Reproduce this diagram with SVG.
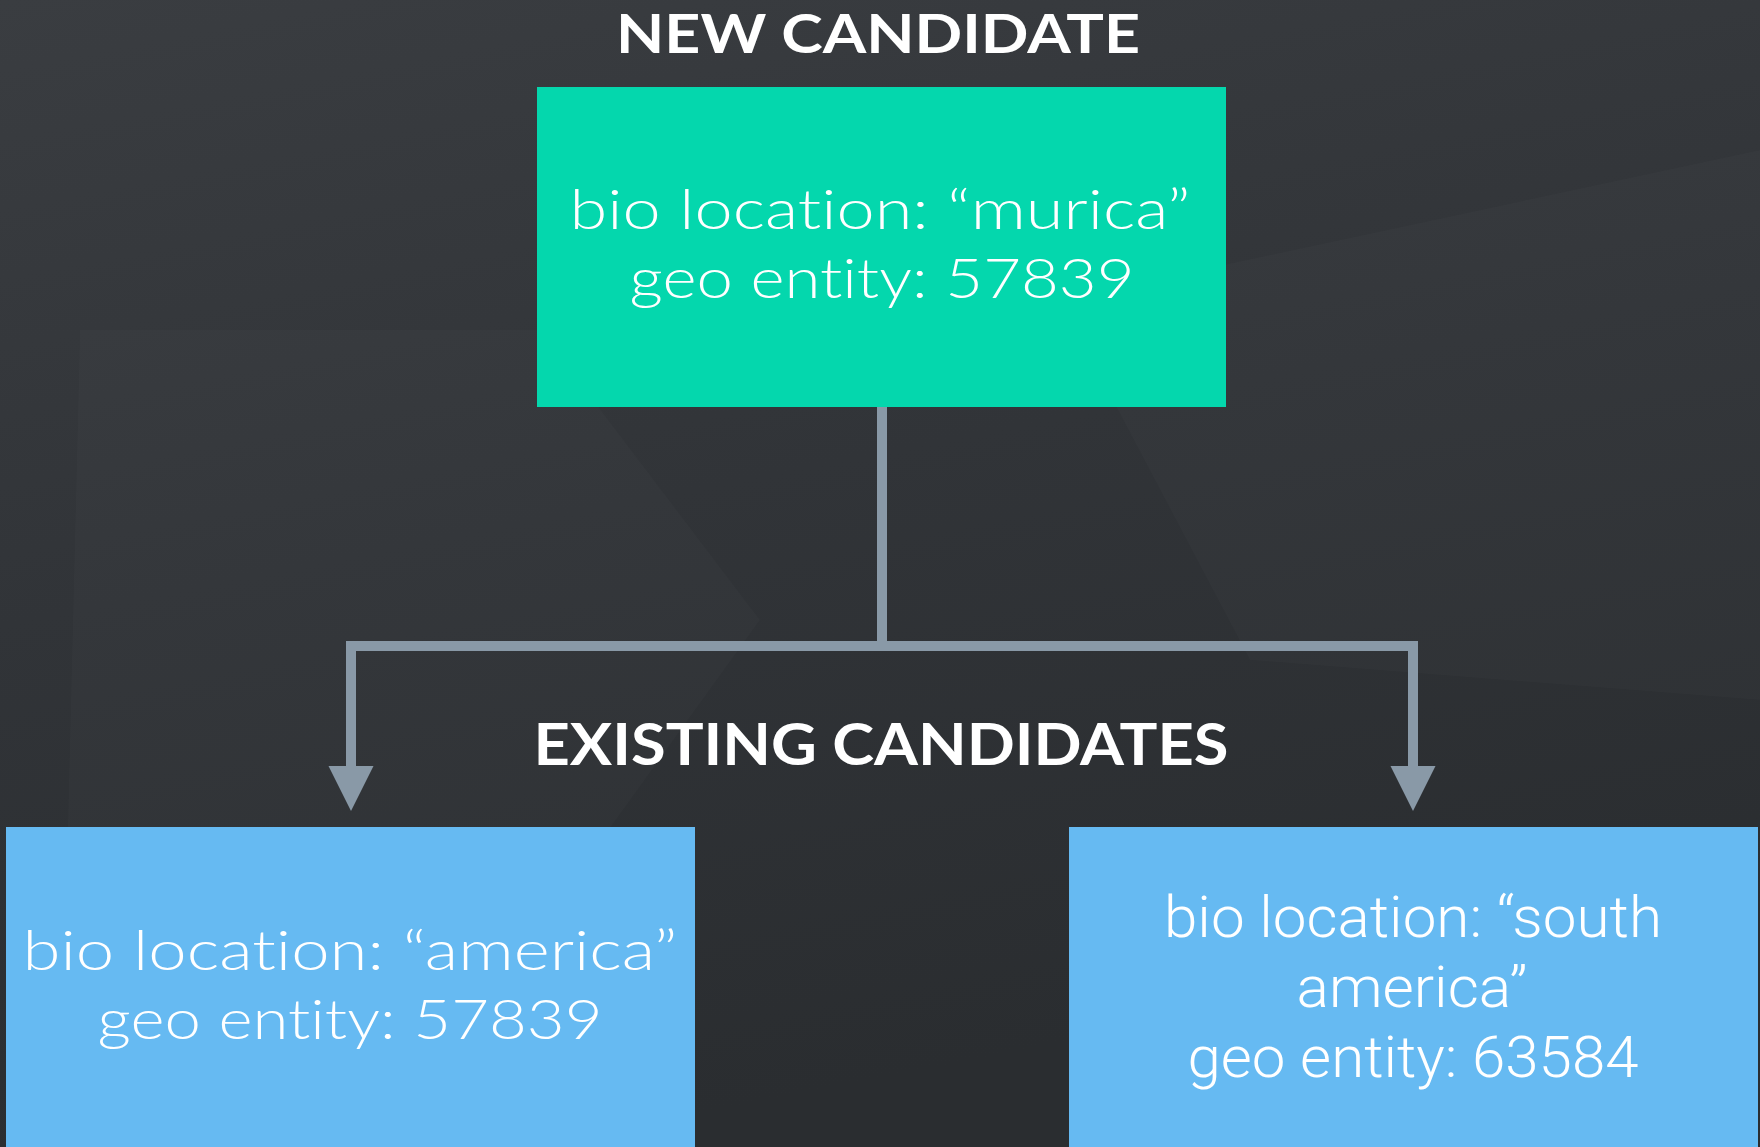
<svg xmlns="http://www.w3.org/2000/svg" width="1760" height="1147" viewBox="0 0 1760 1147">
  <defs>
    <linearGradient id="bg" x1="0" y1="0" x2="0.3" y2="1">
      <stop offset="0" stop-color="#3a3d41"/>
      <stop offset="0.5" stop-color="#313438"/>
      <stop offset="1" stop-color="#2a2d30"/>
    </linearGradient>
    <marker id="arrow" markerUnits="userSpaceOnUse" markerWidth="46" markerHeight="46" viewBox="0 -23 46 46" refX="0" refY="0" orient="auto">
      <path d="M0,-22.5 L45,0 L0,22.5 Z" fill="#8999a7"/>
    </marker>
    <style>
      text { font-variant-ligatures: none; font-feature-settings: "liga" 0, "clig" 0; }
      .heading { font-family: "Lato", "Open Sans", "Liberation Sans", sans-serif; font-weight: 700; font-size: 53px; fill: #ffffff; text-anchor: middle; }
      .heading2 { font-family: "Lato", "Open Sans", "Liberation Sans", sans-serif; font-weight: 700; font-size: 57px; fill: #ffffff; text-anchor: middle; }
      .body { font-family: "Lato", "Open Sans", "Liberation Sans", sans-serif; font-weight: 300; font-size: 55px; fill: #ffffff; text-anchor: middle; }
      .body2 { font-family: "Roboto", "Liberation Sans", sans-serif; font-weight: 300; font-size: 57px; fill: #ffffff; text-anchor: middle; }
      .teal { fill: #04d7ad; }
      .blue { fill: #66baf2; }
      .conn { fill: none; stroke: #8999a7; stroke-width: 10; stroke-linejoin: miter; stroke-linecap: butt; }
    </style>
  </defs>

  <rect x="0" y="0" width="1760" height="1147" fill="url(#bg)"/>
  <polygon points="80,330 540,330 760,620 380,1147 60,1147" fill="#ffffff" opacity="0.015"/>
  <polygon points="1060,300 1760,150 1760,700 1250,660" fill="#ffffff" opacity="0.015"/>

  <g id="heading-new">
    <text class="heading" x="878" y="52.5" textLength="524" lengthAdjust="spacingAndGlyphs">NEW CANDIDATE</text>
  </g>
  <g id="heading-existing">
    <text class="heading2" x="881" y="765" textLength="695" lengthAdjust="spacingAndGlyphs">EXISTING CANDIDATES</text>
  </g>

  <g id="connectors">
    <path class="conn" d="M882 406 V646"/>
    <path class="conn" d="M887 646 H351 V766" marker-end="url(#arrow)"/>
    <path class="conn" d="M877 646 H1413 V766" marker-end="url(#arrow)"/>
  </g>

  <g id="node-new">
    <rect class="teal" x="537" y="87" width="689" height="320"/>
    <text class="body" x="880" y="229" textLength="621" lengthAdjust="spacingAndGlyphs">bio location: “murica”</text>
    <text class="body" x="882" y="298" textLength="505" lengthAdjust="spacingAndGlyphs">geo entity: 57839</text>
  </g>

  <g id="node-america">
    <rect class="blue" x="6" y="827" width="689" height="320"/>
    <text class="body" x="350" y="970" textLength="655" lengthAdjust="spacingAndGlyphs">bio location: “america”</text>
    <text class="body" x="350" y="1039" textLength="505" lengthAdjust="spacingAndGlyphs">geo entity: 57839</text>
  </g>

  <g id="node-south-america">
    <rect class="blue" x="1069" y="827" width="689" height="320"/>
    <text class="body2" x="1413" y="937" textLength="498" lengthAdjust="spacingAndGlyphs">bio location: “south</text>
    <text class="body2" x="1412" y="1007" textLength="231" lengthAdjust="spacingAndGlyphs">america”</text>
    <text class="body2" x="1413" y="1077" textLength="451" lengthAdjust="spacingAndGlyphs">geo entity: 63584</text>
  </g>
</svg>
